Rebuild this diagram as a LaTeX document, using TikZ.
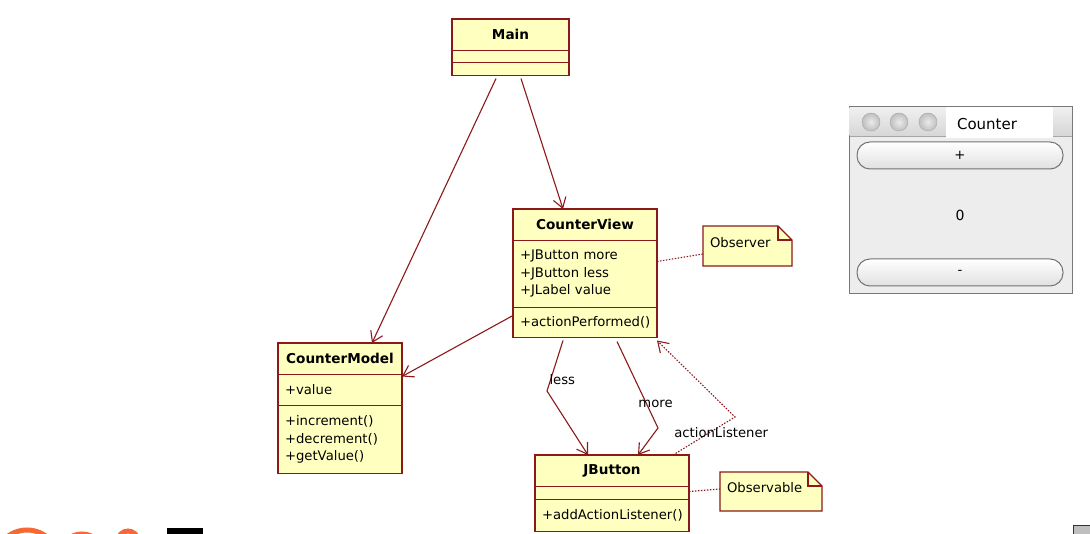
\documentclass[tikz,border=0pt]{standalone}
\usepackage{fontspec}
\setmainfont{DejaVu Sans}
\usepackage{tikz}
\usetikzlibrary{arrows.meta, positioning, backgrounds}
\definecolor{umlred}{RGB}{140,25,25}
\definecolor{umlyellow}{RGB}{255,255,192}
\definecolor{wingray}{RGB}{237,237,237}
\definecolor{winborder}{RGB}{120,120,120}
\definecolor{logoorange}{RGB}{245,105,55}

\begin{document}
\begin{tikzpicture}[
    x=1pt, y=-1pt,
    every node/.style={font=\fontsize{13.2}{17.5}\selectfont, inner sep=0pt, outer sep=0pt},
    umlline/.style={draw=umlred, line width=1.1pt},
    classhead/.style={umlline, fill=umlyellow, minimum width=#1, minimum height=31.5pt, anchor=north west, font=\fontsize{13.6}{17.5}\selectfont\bfseries},
    compart/.style={umlline, fill=umlyellow, inner xsep=7pt, align=left},
    notebox/.style={inner xsep=7pt, align=left, text depth=8pt},
    assoc/.style={-{Straight Barb[length=10pt,width=13pt]}, draw=umlred, line width=1.1pt},
    dep/.style={assoc, dash pattern=on 1.5pt off 1.5pt},
    noteline/.style={draw=umlred, line width=1.1pt, dash pattern=on 1.5pt off 1.5pt},
    winbutton/.style={draw=black!55, line width=1pt, top color=white, bottom color=black!12, rounded corners=13pt, minimum width=206pt, minimum height=27pt}
]
\useasboundingbox (0,0) rectangle (1090,534);
\clip (0,0) rectangle (1090,534);

% classes
\node[classhead=117pt] (mainHead) at (452,19) {Main};
\node[compart, text width=103pt, minimum height=12pt, below=0pt of mainHead] (mainAttr) {};
\node[compart, text width=103pt, minimum height=13pt, below=0pt of mainAttr] (mainOps) {};

\node[classhead=144pt] (viewHead) at (513,209) {CounterView};
\node[compart, text width=130pt, minimum height=67pt, below=0pt of viewHead] (viewAttr) {+JButton more\\+JButton less\\+JLabel value};
\node[compart, text width=130pt, minimum height=30pt, below=0pt of viewAttr] (viewOps) {+actionPerformed()};

\node[classhead=124pt] (modelHead) at (278,343) {CounterModel};
\node[compart, text width=110pt, minimum height=31pt, below=0pt of modelHead] (modelAttr) {+value};
\node[compart, text width=110pt, minimum height=68pt, below=0pt of modelAttr] (modelOps) {+increment()\\+decrement()\\+getValue()};

\node[classhead=154pt] (btnHead) at (535,455) {JButton};
\node[compart, text width=140pt, minimum height=13pt, below=0pt of btnHead] (btnAttr) {};
\node[compart, text width=140pt, minimum height=32pt, below=0pt of btnAttr] (btnOps) {+addActionListener()};

% notes
\node[notebox, minimum width=89pt, minimum height=40pt, text width=75pt] (observer) at (747.5,246) {Observer};
\node[notebox, minimum width=102pt, minimum height=39pt, text width=88pt] (observable) at (771,491.5) {Observable};
\begin{scope}[on background layer]
\foreach \n in {observer,observable}
  \filldraw[umlline, fill=umlyellow] (\n.north west) -- ([xshift=-14pt]\n.north east) -- ([yshift=-14pt]\n.north east) -- (\n.south east) -- (\n.south west) -- cycle;
\end{scope}
\foreach \n in {observer,observable}
  \draw[umlline] ([xshift=-14pt]\n.north east) |- ([yshift=-14pt]\n.north east);

% connectors
\draw[assoc] ([xshift=-14.5pt,yshift=-3pt]mainOps.south) -- ([xshift=32pt]modelHead.north);
\draw[assoc] ([xshift=10.5pt,yshift=-3pt]mainOps.south) -- ([xshift=-22pt]viewHead.north);
\draw[assoc] ([yshift=7pt]viewOps.west) -- ([yshift=-2pt]modelAttr.north east);
\draw[assoc] ([xshift=-22pt,yshift=-3pt]viewOps.south) -- node[pos=0.78, right=-1pt] (lessLabel) {less} (547,391) -- ([xshift=-24pt]btnHead.north);
\draw[assoc] ([xshift=32pt,yshift=-4pt]viewOps.south) -- node[pos=0.72, xshift=9pt] (moreLabel) {more} (658,428) -- ([xshift=26pt]btnHead.north);
\draw[dep] ([xshift=61pt]btnHead.north) -- node[pos=0.6, xshift=11pt] (listenerLabel) {actionListener} (735,417) -- ([yshift=-3pt]viewOps.south east);
\draw[noteline] ([yshift=12.5pt]viewAttr.east) -- ([yshift=-8pt]observer.west);
\draw[noteline] ([yshift=1.5pt]btnAttr.east) -- ([yshift=2.5pt]observable.west);

% counter window
\filldraw[fill=wingray, draw=winborder, line width=1pt] (849,107) rectangle (1072,294);
\shade[top color=black!6, bottom color=black!16] (849.5,107.5) rectangle (1071.5,136);
\draw[black!35] (849.5,136) -- (1071.5,136);
\foreach \x in {871,899,928}
  \shadedraw[draw=black!35, inner color=black!8, outer color=black!25] (\x,122) circle (9);
\fill[white] (946,107.5) rectangle (1053,138);
\node[font=\fontsize{15}{17}\selectfont] (winTitle) at (987,124) {Counter};
\node[winbutton] (plusBtn) at (960,155.5) {+};
\node[font=\fontsize{14}{17}\selectfont] (countLabel) at (960,215) {0};
\node[winbutton] (minusBtn) at (960,272.5) {-};

% cut-off fragments at the bottom
\draw[logoorange, line width=5pt] (27,562) circle (32);
\draw[logoorange, line width=5pt] (82,556) circle (22);
\draw[logoorange, line width=5pt] (128,541) circle (10);
\fill[black] (167,528) rectangle (203,534);
\filldraw[fill=black!25, draw=black!80, line width=1pt] (1073,525) rectangle (1092,536);

\end{tikzpicture}
\end{document}
